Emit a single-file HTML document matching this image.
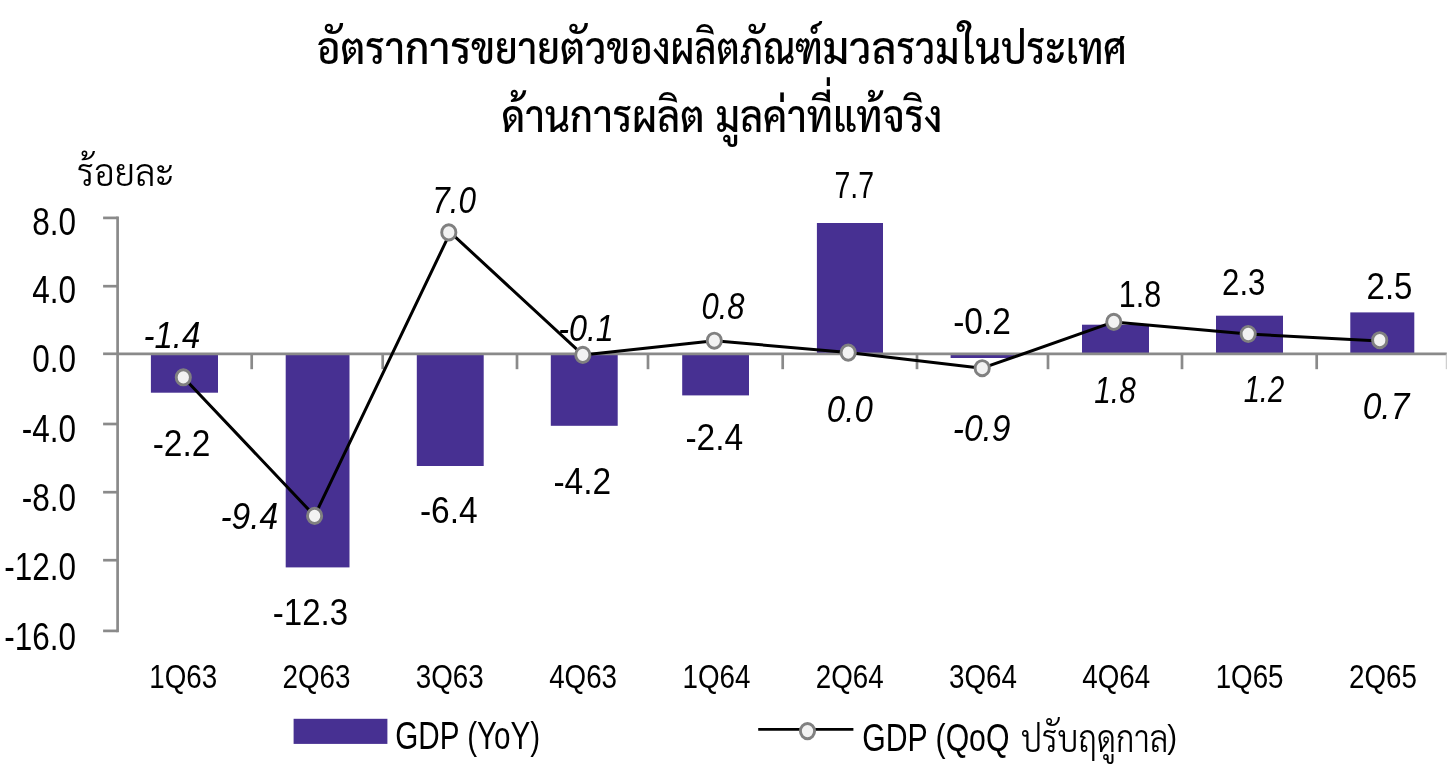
<!DOCTYPE html>
<html lang="th"><head><meta charset="utf-8"><title>GDP growth</title>
<style>
html,body{margin:0;padding:0;background:#fff;}
body{width:1452px;height:772px;overflow:hidden;}
svg{display:block;}
text{font-family:"Liberation Sans","Sarabun","TH Sarabun New","TH SarabunPSK","Noto Sans Thai","Noto Sans Thai UI","Noto Serif Thai",sans-serif;fill:#000;}
.title{font-weight:500;font-size:44.7px;text-anchor:middle;}
.title1{font-weight:500;font-size:44.7px;}
.unit{font-size:38px;font-weight:300;}
.ax{font-size:38.3px;text-anchor:end;}
.cat{font-size:32.8px;text-anchor:middle;}
.bl{font-size:37.3px;text-anchor:middle;}
.ll{font-size:37.3px;text-anchor:middle;font-style:italic;}
.lg{font-size:38px;}
.lgth{font-size:36.5px;font-weight:300;}
.lgp{font-size:33.5px;}
</style></head><body>
<svg width="1452" height="772" viewBox="0 0 1452 772">
<rect width="1452" height="772" fill="#fff"/>
<text class="title1" y="64.3"><tspan x="316.6" textLength="88.4" lengthAdjust="spacingAndGlyphs">อัตรา</tspan><tspan x="405.0" textLength="66.1" lengthAdjust="spacingAndGlyphs">การ</tspan><tspan x="471.1" textLength="88.9" lengthAdjust="spacingAndGlyphs">ขยาย</tspan><tspan x="560.0" textLength="46.5" lengthAdjust="spacingAndGlyphs">ตัว</tspan><tspan x="606.5" textLength="64.0" lengthAdjust="spacingAndGlyphs">ของ</tspan><tspan x="670.5" textLength="152.2" lengthAdjust="spacingAndGlyphs">ผลิตภัณฑ์</tspan><tspan x="822.7" textLength="73.8" lengthAdjust="spacingAndGlyphs">มวล</tspan><tspan x="896.5" textLength="62.8" lengthAdjust="spacingAndGlyphs">รวม</tspan><tspan x="959.3" textLength="41.9" lengthAdjust="spacingAndGlyphs">ใน</tspan><tspan x="1001.2" textLength="125.5" lengthAdjust="spacingAndGlyphs">ประเทศ</tspan></text>
<text class="title1" x="501.6" y="132" textLength="440.8" lengthAdjust="spacingAndGlyphs">ด้านการผลิต มูลค่าที่แท้จริง</text>
<text class="unit" x="77" y="186.2" textLength="97.4" lengthAdjust="spacingAndGlyphs">ร้อยละ</text>
<g fill="#473092">
<rect x="150.9" y="353.8" width="67.1" height="38.9"/>
<rect x="285.7" y="353.8" width="63.8" height="213.6"/>
<rect x="416.8" y="353.8" width="66.9" height="112.2"/>
<rect x="550.8" y="353.8" width="66.9" height="72.0"/>
<rect x="682.2" y="353.8" width="66.8" height="41.6"/>
<rect x="816.9" y="223.0" width="66.1" height="130.8"/>
<rect x="950.6" y="353.8" width="64.0" height="4.2"/>
<rect x="1082.0" y="324.7" width="67.0" height="29.1"/>
<rect x="1216.0" y="315.7" width="67.0" height="38.1"/>
<rect x="1350.3" y="312.4" width="64.0" height="41.4"/>
</g>
<g stroke="#8a8a8a" stroke-width="2.7" fill="none">
<path d="M117.6 216.6V632.2"/>
<path d="M103.1 217.9H117.6"/>
<path d="M103.1 286.2H117.6"/>
<path d="M103.1 353.8H117.6"/>
<path d="M103.1 424.0H117.6"/>
<path d="M103.1 492.2H117.6"/>
<path d="M103.1 560.2H117.6"/>
<path d="M103.1 630.9H117.6"/>
<path d="M117.6 353.8H1446.8"/>
<path d="M251.7 353.8V369.2"/>
<path d="M382.7 353.8V369.2"/>
<path d="M517.0 353.8V369.2"/>
<path d="M648.0 353.8V369.2"/>
<path d="M782.7 353.8V369.2"/>
<path d="M917.0 353.8V369.2"/>
<path d="M1048.0 353.8V369.2"/>
<path d="M1182.0 353.8V369.2"/>
<path d="M1316.7 353.8V369.2"/>
<path d="M1446.3 353.8V369.2" stroke="#c4c4c4" stroke-width="1"/>
</g>
<text class="ax" transform="translate(76.0 235.0) scale(0.822 1)">8.0</text>
<text class="ax" transform="translate(76.0 303.0) scale(0.822 1)">4.0</text>
<text class="ax" transform="translate(76.0 372.0) scale(0.822 1)">0.0</text>
<text class="ax" transform="translate(76.0 442.0) scale(0.822 1)">-4.0</text>
<text class="ax" transform="translate(76.0 511.0) scale(0.822 1)">-8.0</text>
<text class="ax" transform="translate(76.0 580.0) scale(0.822 1)">-12.0</text>
<text class="ax" transform="translate(76.0 649.6) scale(0.822 1)">-16.0</text>
<text class="cat" transform="translate(183.2 687.8) scale(0.847 1)">1Q63</text>
<text class="cat" transform="translate(316.5 687.8) scale(0.847 1)">2Q63</text>
<text class="cat" transform="translate(449.8 687.8) scale(0.847 1)">3Q63</text>
<text class="cat" transform="translate(583.1 687.8) scale(0.847 1)">4Q63</text>
<text class="cat" transform="translate(716.4 687.8) scale(0.847 1)">1Q64</text>
<text class="cat" transform="translate(849.7 687.8) scale(0.847 1)">2Q64</text>
<text class="cat" transform="translate(983.0 687.8) scale(0.847 1)">3Q64</text>
<text class="cat" transform="translate(1116.3 687.8) scale(0.847 1)">4Q64</text>
<text class="cat" transform="translate(1249.6 687.8) scale(0.847 1)">1Q65</text>
<text class="cat" transform="translate(1382.9 687.8) scale(0.847 1)">2Q65</text>
<polyline points="183.3,377.3 314.6,515.9 450.3,232.4 582.8,354.9 714.3,340.7 848.2,352.6 982.2,368.2 1113.8,321.9 1248.2,334.0 1379.6,341.0" fill="none" stroke="#000" stroke-width="3" stroke-linejoin="round"/>
<g fill="#f2f2f2" stroke="#808080" stroke-width="2.9">
<ellipse cx="183.3" cy="377.3" rx="7.1" ry="7.6"/>
<ellipse cx="314.6" cy="515.9" rx="7.1" ry="7.6"/>
<ellipse cx="448.8" cy="232.4" rx="7.1" ry="7.6"/>
<ellipse cx="582.8" cy="354.9" rx="7.1" ry="7.6"/>
<ellipse cx="714.3" cy="340.7" rx="7.1" ry="7.6"/>
<ellipse cx="848.2" cy="352.6" rx="7.1" ry="7.6"/>
<ellipse cx="982.2" cy="368.2" rx="7.1" ry="7.6"/>
<ellipse cx="1113.8" cy="321.9" rx="7.1" ry="7.6"/>
<ellipse cx="1248.2" cy="334.0" rx="7.1" ry="7.6"/>
<ellipse cx="1379.7" cy="340.2" rx="7.1" ry="7.6"/>
</g>
<text class="bl" transform="translate(181.5 456.0) scale(0.898 1)">-2.2</text>
<text class="bl" transform="translate(310.4 624.5) scale(0.885 1)">-12.3</text>
<text class="bl" transform="translate(448.8 522.5) scale(0.898 1)">-6.4</text>
<text class="bl" transform="translate(582.3 494.0) scale(0.898 1)">-4.2</text>
<text class="bl" transform="translate(714.3 450.0) scale(0.898 1)">-2.4</text>
<text class="bl" transform="translate(854.3 198.0) scale(0.763 1)">7.7</text>
<text class="bl" transform="translate(982.0 334.0) scale(0.898 1)">-0.2</text>
<text class="bl" transform="translate(1139.9 307.0) scale(0.817 1)">1.8</text>
<text class="bl" transform="translate(1243.7 294.7) scale(0.835 1)">2.3</text>
<text class="bl" transform="translate(1389.5 299.0) scale(0.885 1)">2.5</text>
<text class="ll" transform="translate(171.9 348.0) scale(0.885 1)">-1.4</text>
<text class="ll" transform="translate(249.3 528.5) scale(0.898 1)">-9.4</text>
<text class="ll" transform="translate(454.2 212.5) scale(0.844 1)">7.0</text>
<text class="ll" transform="translate(586.0 340.5) scale(0.867 1)">-0.1</text>
<text class="ll" transform="translate(723.0 319.3) scale(0.831 1)">0.8</text>
<text class="ll" transform="translate(849.8 421.6) scale(0.885 1)">0.0</text>
<text class="ll" transform="translate(981.6 441.0) scale(0.898 1)">-0.9</text>
<text class="ll" transform="translate(1115.0 403.0) scale(0.799 1)">1.8</text>
<text class="ll" transform="translate(1263.9 402.0) scale(0.781 1)">1.2</text>
<text class="ll" transform="translate(1386.0 418.7) scale(0.898 1)">0.7</text>
<rect x="293.6" y="718.8" width="93.8" height="25.1" fill="#473092"/>
<path d="M758.2 729.3H853.4" stroke="#000" stroke-width="2.8"/>
<ellipse cx="807.5" cy="731.1" rx="7.1" ry="7.6" fill="#f2f2f2" stroke="#808080" stroke-width="2.9"/>
<text class="lg" transform="translate(395.3 749.1) scale(0.78 1)">GDP (YoY)</text>
<text class="lg" y="751.3"><tspan x="862.3" textLength="147.1" lengthAdjust="spacingAndGlyphs">GDP (QoQ</tspan> <tspan class="lgth" x="1021" y="752.2" textLength="147.3" lengthAdjust="spacingAndGlyphs">ปรับฤดูกาล</tspan><tspan class="lgp" x="1167.3" y="748.3" textLength="9.8" lengthAdjust="spacingAndGlyphs">)</tspan></text>
</svg></body></html>
